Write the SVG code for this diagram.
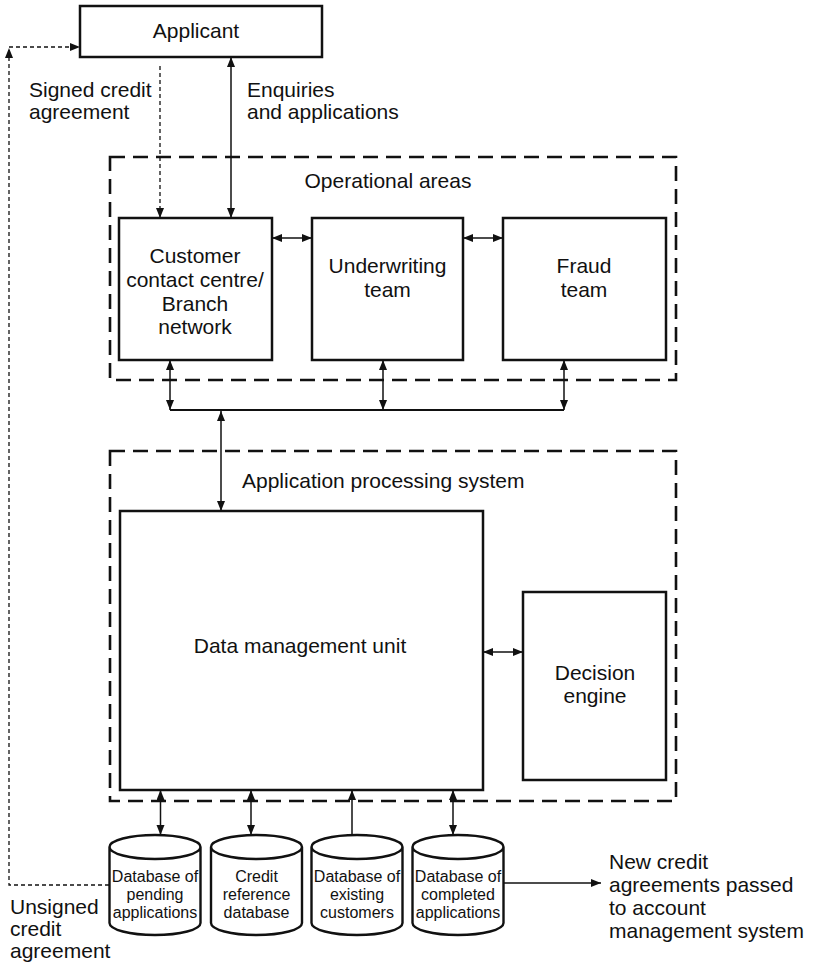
<svg xmlns="http://www.w3.org/2000/svg" width="813" height="966" viewBox="0 0 813 966">
  <style>
    text { font-family: "Liberation Sans", Arial, Helvetica, sans-serif; fill: #111; }
    .lbl { font-size: 21px; }
    .db-lbl { font-size: 16px; text-anchor: middle; }
    .mid { text-anchor: middle; }
    .box { fill: #fff; stroke: #111; stroke-width: 2.5; }
    .area { fill: none; stroke: #111; stroke-width: 2.6; stroke-dasharray: 15 8; }
    .db { fill: #fff; stroke: #111; stroke-width: 2.4; }
    .link { fill: none; stroke: #111; stroke-width: 1.5; }
    .bus { fill: none; stroke: #111; stroke-width: 2.2; }
    .dotted { fill: none; stroke: #111; stroke-width: 1.3; stroke-dasharray: 4 3; }
  </style>
  <defs>
    <marker id="arrow" markerUnits="userSpaceOnUse" markerWidth="11" markerHeight="10"
            refX="10" refY="4" orient="auto-start-reverse">
      <path d="M0,0 L10,4 L0,8 z" fill="#111"/>
    </marker>
  </defs>

  <rect width="813" height="966" fill="#fff"/>

  <!-- grouping frames -->
  <g id="operational-areas">
    <rect class="area" x="110" y="157" width="566" height="223"/>
    <text class="lbl mid" x="388" y="188">Operational areas</text>
  </g>
  <g id="application-processing-system">
    <rect class="area" x="110" y="451" width="566" height="350"/>
    <text class="lbl" x="242" y="488">Application processing system</text>
  </g>

  <!-- nodes -->
  <g id="applicant">
    <rect class="box" x="80" y="6" width="242" height="51"/>
    <text class="lbl mid" x="196" y="38">Applicant</text>
  </g>
  <g id="customer-contact">
    <rect class="box" x="119" y="218" width="153" height="142"/>
    <text class="lbl mid" x="195" y="263">Customer</text>
    <text class="lbl mid" x="195" y="287">contact centre/</text>
    <text class="lbl mid" x="195" y="311">Branch</text>
    <text class="lbl mid" x="195" y="334">network</text>
  </g>
  <g id="underwriting">
    <rect class="box" x="312" y="218" width="151" height="142"/>
    <text class="lbl mid" x="387.5" y="273">Underwriting</text>
    <text class="lbl mid" x="387.5" y="297">team</text>
  </g>
  <g id="fraud">
    <rect class="box" x="503" y="218" width="163" height="142"/>
    <text class="lbl mid" x="584" y="273">Fraud</text>
    <text class="lbl mid" x="584" y="297">team</text>
  </g>
  <g id="data-management-unit">
    <rect class="box" x="120" y="511" width="363" height="279"/>
    <text class="lbl mid" x="300" y="653">Data management unit</text>
  </g>
  <g id="decision-engine">
    <rect class="box" x="523" y="592" width="143" height="188"/>
    <text class="lbl mid" x="595" y="680">Decision</text>
    <text class="lbl mid" x="595" y="703">engine</text>
  </g>

  <g id="db-pending">
    <path class="db" d="M109.5,847 A45.5,12 0 0 1 200.5,847 A45.5,12 0 0 1 109.5,847 V923 A45.5,12 0 0 0 200.5,923 V847"/>
    <text class="db-lbl" x="155" y="882">Database of</text>
    <text class="db-lbl" x="155" y="900">pending</text>
    <text class="db-lbl" x="155" y="918">applications</text>
  </g>
  <g id="db-credit-reference">
    <path class="db" d="M211,847 A45.5,12 0 0 1 302,847 A45.5,12 0 0 1 211,847 V923 A45.5,12 0 0 0 302,923 V847"/>
    <text class="db-lbl" x="256.5" y="882">Credit</text>
    <text class="db-lbl" x="256.5" y="900">reference</text>
    <text class="db-lbl" x="256.5" y="918">database</text>
  </g>
  <g id="db-existing">
    <path class="db" d="M311.5,847 A45.5,12 0 0 1 402.5,847 A45.5,12 0 0 1 311.5,847 V923 A45.5,12 0 0 0 402.5,923 V847"/>
    <text class="db-lbl" x="357" y="882">Database of</text>
    <text class="db-lbl" x="357" y="900">existing</text>
    <text class="db-lbl" x="357" y="918">customers</text>
  </g>
  <g id="db-completed">
    <path class="db" d="M412.5,847 A45.5,12 0 0 1 503.5,847 A45.5,12 0 0 1 412.5,847 V923 A45.5,12 0 0 0 503.5,923 V847"/>
    <text class="db-lbl" x="458" y="882">Database of</text>
    <text class="db-lbl" x="458" y="900">completed</text>
    <text class="db-lbl" x="458" y="918">applications</text>
  </g>

  <!-- connectors -->
  <g id="connectors">
    <!-- applicant <-> customer contact -->
    <path class="dotted" d="M160,66 V218" marker-end="url(#arrow)"/>
    <path class="link" d="M231,57 V218" marker-start="url(#arrow)" marker-end="url(#arrow)"/>
    <!-- between operational teams -->
    <path class="link" d="M272,238 H312" marker-start="url(#arrow)" marker-end="url(#arrow)"/>
    <path class="link" d="M463,238 H503" marker-start="url(#arrow)" marker-end="url(#arrow)"/>
    <!-- teams to shared bus -->
    <path class="link" d="M170,360 V410" marker-start="url(#arrow)" marker-end="url(#arrow)"/>
    <path class="link" d="M383,360 V410" marker-start="url(#arrow)" marker-end="url(#arrow)"/>
    <path class="link" d="M564,360 V410" marker-start="url(#arrow)" marker-end="url(#arrow)"/>
    <path class="bus" d="M170,410 H564"/>
    <!-- bus to data management unit -->
    <path class="link" d="M221,411 V511" marker-start="url(#arrow)" marker-end="url(#arrow)"/>
    <!-- data management unit <-> decision engine -->
    <path class="link" d="M483,652 H523" marker-start="url(#arrow)" marker-end="url(#arrow)"/>
    <!-- data management unit <-> databases -->
    <path class="link" d="M160.5,790 V835" marker-start="url(#arrow)" marker-end="url(#arrow)"/>
    <path class="link" d="M251,790 V835" marker-start="url(#arrow)" marker-end="url(#arrow)"/>
    <path class="link" d="M352,835 V790" marker-end="url(#arrow)"/>
    <path class="link" d="M453,790 V835" marker-start="url(#arrow)" marker-end="url(#arrow)"/>
    <!-- completed applications out to account management -->
    <path class="link" d="M503,883 H601" marker-end="url(#arrow)"/>
    <!-- unsigned agreement loop back to applicant -->
    <path class="dotted" d="M109,885 H9 V48" marker-end="url(#arrow)"/>
    <path class="dotted" d="M9,47 H80" marker-end="url(#arrow)"/>
  </g>

  <!-- free labels -->
  <g id="labels">
    <text class="lbl" x="29" y="97">Signed credit</text>
    <text class="lbl" x="29" y="119">agreement</text>
    <text class="lbl" x="247" y="97">Enquiries</text>
    <text class="lbl" x="247" y="119">and applications</text>
    <text class="lbl" x="609" y="869">New credit</text>
    <text class="lbl" x="609" y="892">agreements passed</text>
    <text class="lbl" x="609" y="915">to account</text>
    <text class="lbl" x="609" y="938">management system</text>
    <text class="lbl" x="10" y="914">Unsigned</text>
    <text class="lbl" x="10" y="936">credit</text>
    <text class="lbl" x="10" y="958">agreement</text>
  </g>
</svg>
